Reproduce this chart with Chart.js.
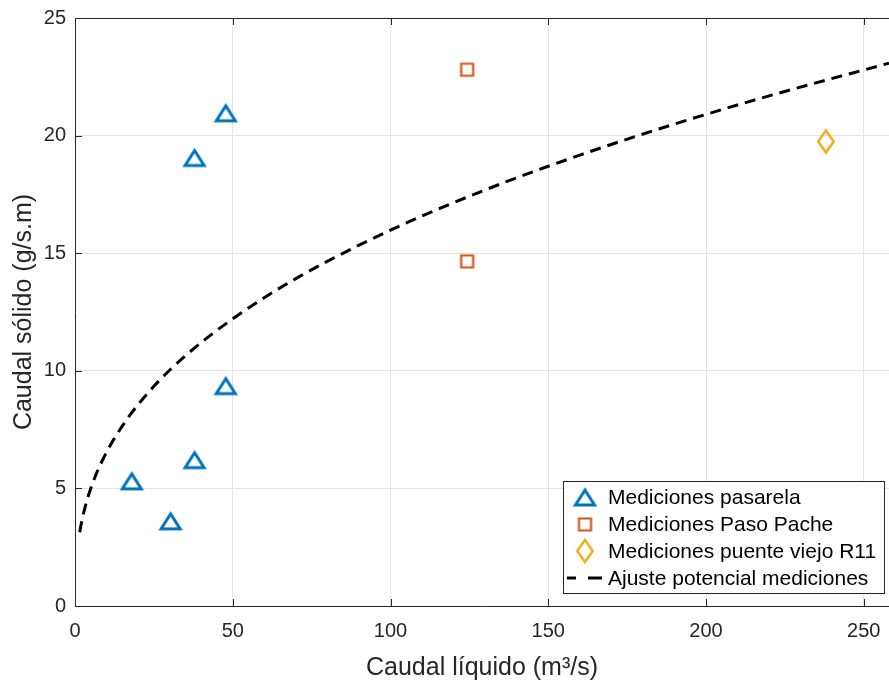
<!DOCTYPE html>
<html>
<head>
<meta charset="utf-8">
<script src="https://cdn.jsdelivr.net/npm/chart.js@4.4.0/dist/chart.umd.min.js"></script>
<style>
html, body { margin: 0; padding: 0; background: #fff; }
</style>
</head>
<body>
<canvas id="chart" width="889" height="686"></canvas>
<script>
// values
var pasarelaX = [18, 30.3, 37.9, 47.8, 37.9, 47.8];
var pasarelaY = [5.3, 3.6, 6.2, 9.35, 19.05, 20.95];
var pacheX = [124.3, 124.3];
var pacheY = [22.8, 14.65];
var r11X = [238];
var r11Y = [19.75];
var ajusteX = [1.5, 2, 3, 4, 5, 6.5, 8, 10, 12, 17, 25, 35, 50, 70, 100, 130, 160, 190, 220, 258];
var ajusteY = [3.14, 3.51, 4.10, 4.59, 5.00, 5.54, 6.00, 6.54, 7.02, 8.04, 9.34, 10.64, 12.21, 13.92, 15.98, 17.69, 19.17, 20.49, 21.69, 23.08];
var xTicks = [0, 50, 100, 150, 200, 250];
var yTicks = [0, 5, 10, 15, 20, 25];

var blue = '#0072BD';
var orange = '#D95319';
var yellow = '#EDB120';
var axisCol = '#262626';

Chart.defaults.font.family = '"Liberation Sans", Arial, sans-serif';
Chart.defaults.color = axisCol;

function pts(xs, ys) {
	var out = [];
	for (var i = 0; i < xs.length; i++) out.push({x: xs[i], y: ys[i]});
	return out;
}

// hollow MATLAB-like markers
function marker(shape, color, lw, w, h) {
	var c = document.createElement('canvas');
	c.width = Math.ceil(w + lw * 4);
	c.height = Math.ceil(h + lw * 4);
	var g = c.getContext('2d');
	var cx = c.width / 2, cy = c.height / 2;
	g.strokeStyle = color;
	g.lineWidth = lw;
	g.lineJoin = 'miter';
	g.beginPath();
	if (shape == 'tri') {
		g.moveTo(cx, cy - h / 2);
		g.lineTo(cx + w / 2, cy + h / 2);
		g.lineTo(cx - w / 2, cy + h / 2);
		g.closePath();
	} else if (shape == 'sq') {
		g.rect(cx - w / 2, cy - h / 2, w, h);
	} else {
		g.moveTo(cx, cy - h / 2);
		g.lineTo(cx + w / 2, cy);
		g.lineTo(cx, cy + h / 2);
		g.lineTo(cx - w / 2, cy);
		g.closePath();
	}
	g.stroke();
	return c;
}

var triImg = marker('tri', blue, 3, 19, 15);
var sqImg = marker('sq', orange, 2.2, 12, 12);
var diaImg = marker('dia', yellow, 2.6, 15.5, 22);

var frame = {
	id: 'frame',
	beforeDatasetsDraw: function(chart) {
		var a = chart.chartArea, c = chart.ctx;
		var sx = chart.scales.x, sy = chart.scales.y;
		c.save();
		c.strokeStyle = axisCol;
		c.lineWidth = 1;
		c.beginPath();
		xTicks.forEach(function(v) {
			var p = Math.round(sx.getPixelForValue(v)) + 0.5;
			c.moveTo(p, a.bottom); c.lineTo(p, a.bottom - 7);
			c.moveTo(p, a.top); c.lineTo(p, a.top + 7);
		});
		yTicks.forEach(function(v) {
			var p = Math.round(sy.getPixelForValue(v)) + 0.5;
			c.moveTo(a.left, p); c.lineTo(a.left + 7, p);
		});
		c.stroke();
		c.beginPath();
		c.moveTo(a.left, a.top + 0.5);
		c.lineTo(a.right, a.top + 0.5);
		c.stroke();
		c.restore();
	},
	afterDraw: function(chart) {
		var c = chart.ctx;
		var ds = chart.data.datasets;
		var bx = 563.5, by = 481.5, bw = 321, bh = 112;
		c.save();
		c.fillStyle = '#fff';
		c.fillRect(bx, by, bw, bh);
		c.strokeStyle = axisCol;
		c.lineWidth = 1;
		c.strokeRect(bx, by, bw, bh);
		c.font = '21px "Liberation Sans", Arial, sans-serif';
		c.fillStyle = '#000';
		c.textBaseline = 'middle';
		var rows = [497.5, 524.5, 551, 578];
		var imgs = [triImg, sqImg, diaImg];
		for (var i = 0; i < ds.length; i++) {
			var ry = rows[i];
			if (i < 3) {
				var im = imgs[i];
				c.drawImage(im, 585 - im.width / 2, ry - im.height / 2);
			} else {
				c.strokeStyle = '#000';
				c.lineWidth = 3;
				c.beginPath();
				c.moveTo(567, ry); c.lineTo(576, ry);
				c.moveTo(588, ry); c.lineTo(602, ry);
				c.stroke();
			}
			c.fillText(ds[i].label, 608, ry + 1);
		}
		c.restore();
	}
};

var ctx = document.getElementById('chart').getContext('2d');
var chart = new Chart(ctx, {
	type: 'scatter',
	data: {
		datasets: [{
			label: 'Mediciones pasarela',
			data: pts(pasarelaX, pasarelaY),
			pointStyle: triImg,
			pointRadius: 11
		}, {
			label: 'Mediciones Paso Pache',
			data: pts(pacheX, pacheY),
			pointStyle: sqImg,
			pointRadius: 8
		}, {
			label: 'Mediciones puente viejo R11',
			data: pts(r11X, r11Y),
			pointStyle: diaImg,
			pointRadius: 11
		}, {
			label: 'Ajuste potencial mediciones',
			data: pts(ajusteX, ajusteY),
			showLine: true,
			borderColor: '#000',
			borderWidth: 3,
			borderDash: [11, 7],
			pointRadius: 0,
			cubicInterpolationMode: 'monotone',
			fill: false
		}]
	},
	options: {
		responsive: false,
		animation: false,
		layout: { autoPadding: false, padding: { top: 18, right: 0, left: 0, bottom: 0 } },
		plugins: {
			legend: { display: false },
			tooltip: { enabled: false }
		},
		scales: {
			x: {
				type: 'linear',
				min: 0,
				max: 258,
				afterFit: function(s) { s.height = 80; s.paddingLeft = 0; s.paddingRight = 0; },
				afterBuildTicks: function(s) { s.ticks = xTicks.map(function(v) { return {value: v}; }); },
				ticks: { stepSize: 50, padding: 13, font: { size: 20 }, color: axisCol },
				grid: { color: '#e3e3e3', drawTicks: false },
				border: { color: axisCol },
				title: { display: true, text: 'Caudal líquido (m³/s)', font: { size: 25 }, color: axisCol, padding: { top: 0, bottom: 3 } }
			},
			y: {
				type: 'linear',
				min: 0,
				max: 25,
				afterFit: function(s) { s.width = 75; s.paddingTop = 0; s.paddingBottom = 0; },
				afterBuildTicks: function(s) { s.ticks = yTicks.map(function(v) { return {value: v}; }); },
				ticks: { stepSize: 5, padding: 9, font: { size: 20 }, color: axisCol },
				grid: { color: '#e3e3e3', drawTicks: false },
				border: { color: axisCol },
				title: { display: true, text: 'Caudal sólido (g/s.m)', font: { size: 25 }, color: axisCol, padding: { top: 9, bottom: 0 } }
			}
		}
	},
	plugins: [frame]
});
</script>
</body>
</html>
